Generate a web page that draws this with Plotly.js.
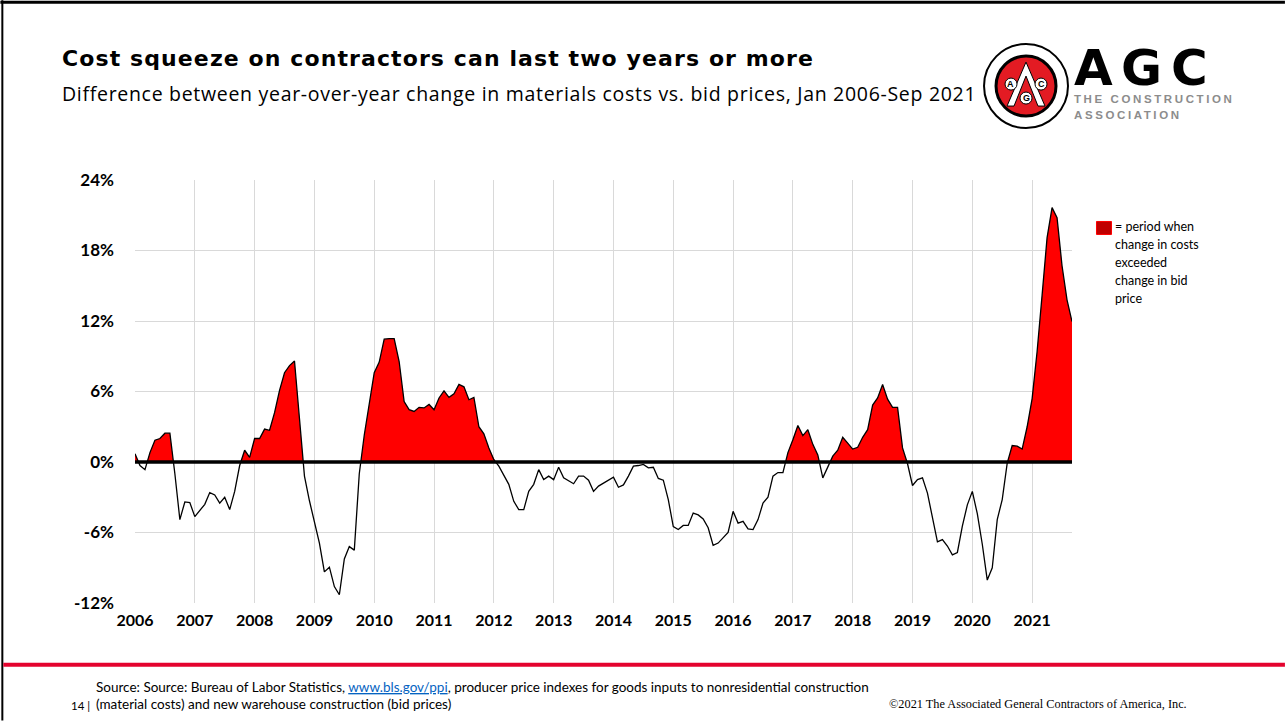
<!DOCTYPE html>
<html>
<head>
<meta charset="utf-8">
<script src="https://cdn.plot.ly/plotly-3.0.1.min.js"></script>
<style>
  html, body { margin: 0; padding: 0; background: #ffffff; }
  #chart { width: 1285px; height: 721px; }
</style>
</head>
<body>
<div id="chart"></div>
<script>
// ---- Data: monthly difference (pp) between YoY change in materials costs and bid prices ----
const years = ['2006','2007','2008','2009','2010','2011','2012','2013','2014','2015','2016','2017','2018','2019','2020','2021'];
const d2006 = [0.7, -0.3, -0.65, 0.8, 1.85, 2.0, 2.45, 2.45, -1.0, -4.9, -3.4, -3.45];
const d2007 = [-4.65, -4.1, -3.6, -2.6, -2.8, -3.5, -3.0, -4.05, -2.5, -0.3, 1.0, 0.4];
const d2008 = [2.0, 2.0, 2.8, 2.7, 4.2, 6.1, 7.6, 8.2, 8.6, 3.7, -1.2, -3.3];
const d2009 = [-5.0, -6.9, -9.35, -8.95, -10.6, -11.3, -8.25, -7.2, -7.5, -1.0, 2.3, 5.1];
const d2010 = [7.6, 8.5, 10.45, 10.5, 10.5, 8.55, 5.15, 4.45, 4.3, 4.65, 4.6, 4.9];
const d2011 = [4.45, 5.45, 6.05, 5.5, 5.8, 6.6, 6.4, 5.3, 5.5, 3.0, 2.4, 1.2];
const d2012 = [0.2, -0.35, -1.1, -1.9, -3.35, -4.05, -4.05, -2.5, -1.9, -0.65, -1.5, -1.2];
const d2013 = [-1.5, -0.45, -1.35, -1.6, -1.85, -1.2, -1.2, -1.55, -2.5, -2.05, -1.8, -1.5];
const d2014 = [-1.3, -2.15, -1.95, -1.2, -0.35, -0.3, -0.2, -0.5, -0.45, -1.4, -1.55, -3.2];
const d2015 = [-5.5, -5.75, -5.4, -5.4, -4.35, -4.5, -4.85, -5.6, -7.1, -6.9, -6.45, -6.0];
const d2016 = [-4.2, -5.2, -5.05, -5.7, -5.75, -4.9, -3.5, -3.0, -1.2, -0.9, -0.9, 0.8];
const d2017 = [1.9, 3.1, 2.25, 2.75, 1.5, 0.6, -1.35, -0.35, 0.5, 1.0, 2.1, 1.6];
const d2018 = [1.1, 1.25, 2.1, 2.75, 4.85, 5.45, 6.6, 5.35, 4.65, 4.65, 1.2, -0.15];
const d2019 = [-2.0, -1.5, -1.35, -2.65, -4.6, -6.8, -6.6, -7.15, -7.9, -7.7, -5.45, -3.65];
const d2020 = [-2.5, -4.4, -7.0, -10.05, -9.0, -4.9, -3.2, -0.1, 1.4, 1.35, 1.1, 3.0];
const d2021 = [5.4, 9.4, 14.2, 19.1, 21.65, 20.8, 16.7, 13.8, 11.95];

const yTickVals = [-12, -6, 0, 6, 12, 18, 24];
const yTickText = ['-12%', '-6%', '0%', '6%', '12%', '18%', '24%'];

const legendLines = ['= period when', 'change in costs', 'exceeded', 'change in bid', 'price'];

// ---- Build series ----
const diff = [].concat(d2006, d2007, d2008, d2009, d2010, d2011, d2012, d2013,
                       d2014, d2015, d2016, d2017, d2018, d2019, d2020, d2021);
const idx = diff.map((_, i) => i);
const yearTickVals = years.map((_, k) => k * 12);

// positive-part polygon with exact zero crossings
const fx = [], fy = [];
for (let i = 0; i < diff.length; i++) {
  if (i > 0 && ((diff[i-1] > 0) !== (diff[i] > 0))) {
    const t = diff[i-1] / (diff[i-1] - diff[i]);
    fx.push(i - 1 + t); fy.push(0);
  }
  fx.push(i); fy.push(Math.max(diff[i], 0));
}

// ---- pixel helpers for page decorations ----
const W = 1285, H = 721, L = 134.7, R = 1072, T = 180, B = 603.3;
const px = x => (x - L) / (R - L);
const py = y => (B - y) / (B - T);

const traces = [
  { x: fx, y: fy, type: 'scatter', mode: 'lines', line: { width: 0, color: '#ff0000' },
    fill: 'tozeroy', fillcolor: '#ff0000', hoverinfo: 'skip', showlegend: false },
  { x: idx, y: diff, type: 'scatter', mode: 'lines', line: { width: 1.3, color: '#000000' },
    showlegend: false }
];

const shapes = [
  // zero line
  { type: 'line', xref: 'x', yref: 'y', x0: 0, x1: diff.length - 1, y0: 0, y1: 0,
    line: { color: '#000000', width: 3.5 }, layer: 'above' },
  // page borders
  { type: 'line', xref: 'paper', yref: 'paper', x0: px(0), x1: px(W), y0: py(2), y1: py(2),
    line: { color: '#000000', width: 3 } },
  { type: 'line', xref: 'paper', yref: 'paper', x0: px(2), x1: px(2), y0: py(0), y1: py(H),
    line: { color: '#000000', width: 2 } },
  // red footer rule
  { type: 'line', xref: 'paper', yref: 'paper', x0: px(3), x1: px(W), y0: py(665), y1: py(665),
    line: { color: '#e4032e', width: 4 } },
  // legend swatch
  { type: 'rect', xref: 'paper', yref: 'paper', x0: px(1096.5), x1: px(1111.5), y0: py(221.5), y1: py(234.5),
    fillcolor: '#c00000', line: { color: '#ff0000', width: 1 } },
  // logo: outer seal
  { type: 'circle', xref: 'paper', yref: 'paper', x0: px(984), x1: px(1068), y0: py(44), y1: py(128),
    fillcolor: '#ffffff', line: { color: '#000000', width: 2 } },
  { type: 'circle', xref: 'paper', yref: 'paper', x0: px(996), x1: px(1056), y0: py(56), y1: py(116),
    fillcolor: '#e31b23', line: { color: '#000000', width: 3 } },
  // white "A" frame in seal
  { type: 'path', xref: 'paper', yref: 'paper',
    path: 'M ' + px(1026) + ' ' + py(62) + ' L ' + px(1007) + ' ' + py(106) + ' L ' + px(1014) + ' ' + py(106) +
          ' L ' + px(1026) + ' ' + py(76) + ' L ' + px(1038) + ' ' + py(106) + ' L ' + px(1045) + ' ' + py(106) + ' Z',
    fillcolor: '#ffffff', line: { color: '#000000', width: 1 } },
  { type: 'circle', xref: 'paper', yref: 'paper', x0: px(1005), x1: px(1017), y0: py(78), y1: py(90),
    fillcolor: '#ffffff', line: { color: '#000000', width: 1 } },
  { type: 'circle', xref: 'paper', yref: 'paper', x0: px(1035), x1: px(1047), y0: py(78), y1: py(90),
    fillcolor: '#ffffff', line: { color: '#000000', width: 1 } },
  { type: 'circle', xref: 'paper', yref: 'paper', x0: px(1020), x1: px(1032), y0: py(92), y1: py(104),
    fillcolor: '#ffffff', line: { color: '#000000', width: 1 } }
];

const ann = (x, y, text, font, extra) => Object.assign({
  xref: 'paper', yref: 'paper', x: px(x), y: py(y), text: text, showarrow: false,
  xanchor: 'left', yanchor: 'middle', align: 'left', font: font
}, extra || {});

const annotations = [
  ann(60, 58, '<span style="letter-spacing:1.1px">Cost squeeze on contractors can last two years or more</span>',
      { family: 'DejaVu Sans', size: 22, color: '#000000', weight: 'bold' }),
  ann(60, 93, '<span style="letter-spacing:0.7px">Difference between year-over-year change in materials costs vs. bid prices, Jan 2006-Sep 2021</span>',
      { family: 'Open Sans', size: 19.5, color: '#000000' }),
  ann(1094, 68, 'A', { family: 'DejaVu Sans', size: 50, color: '#000000', weight: 'bold' }, { xanchor: 'center' }),
  ann(1142, 68, 'G', { family: 'DejaVu Sans', size: 50, color: '#000000', weight: 'bold' }, { xanchor: 'center' }),
  ann(1190, 68, 'C', { family: 'DejaVu Sans', size: 50, color: '#000000', weight: 'bold' }, { xanchor: 'center' }),
  ann(1072, 99, '<span style="letter-spacing:2.6px">THE CONSTRUCTION</span>',
      { family: 'Liberation Sans', size: 11.5, color: '#8c8c8c', weight: 'bold' }),
  ann(1072, 115, '<span style="letter-spacing:2.6px">ASSOCIATION</span>',
      { family: 'Liberation Sans', size: 11.5, color: '#8c8c8c', weight: 'bold' }),
  ann(1010, 84, 'A', { family: 'Liberation Sans', size: 9, color: '#000000', weight: 'bold' }, { xanchor: 'center' }),
  ann(1041, 84, 'C', { family: 'Liberation Sans', size: 9, color: '#000000', weight: 'bold' }, { xanchor: 'center' }),
  ann(1026, 98, 'G', { family: 'Liberation Sans', size: 9, color: '#000000', weight: 'bold' }, { xanchor: 'center' }),
  ann(94, 687, 'Source: Source: Bureau of Labor Statistics, <span style="color:#0563c1;text-decoration:underline">www.bls.gov/ppi</span>, producer price indexes for goods inputs to nonresidential construction',
      { family: 'Lato', size: 13.5, color: '#000000' }),
  ann(94, 704, '(material costs) and new warehouse construction (bid prices)',
      { family: 'Lato', size: 13.5, color: '#000000' }),
  ann(92, 706, '14 |', { family: 'Lato', size: 11.5, color: '#000000' }, { xanchor: 'right' }),
  ann(1189, 704, '©2021 The Associated General Contractors of America, Inc.',
      { family: 'Liberation Serif', size: 12.3, color: '#000000' }, { xanchor: 'right' })
];
legendLines.forEach((line, k) => {
  annotations.push(ann(1113, 227 + k * 17.8, line, { family: 'Lato', size: 12.5, color: '#000000' }));
});

const layout = {
  width: W, height: H,
  margin: { l: L, r: W - R, t: T, b: H - B, pad: 0 },
  paper_bgcolor: '#ffffff', plot_bgcolor: '#ffffff',
  showlegend: false,
  hovermode: false,
  xaxis: {
    range: [0, diff.length - 1], tickvals: yearTickVals, ticktext: years,
    showgrid: true, gridcolor: '#d9d9d9', gridwidth: 1, zeroline: false, showline: false,
    ticks: '', ticklabelstandoff: 6,
    tickfont: { family: 'Lato', size: 16, color: '#000000', weight: 'bold' }
  },
  yaxis: {
    range: [-12, 24], tickvals: yTickVals, ticktext: yTickText,
    showgrid: true, gridcolor: '#d9d9d9', gridwidth: 1, zeroline: false, showline: false,
    ticks: '', ticklabelstandoff: 20,
    tickfont: { family: 'Lato', size: 17, color: '#000000', weight: 'bold' }
  },
  shapes: shapes,
  annotations: annotations
};

Plotly.newPlot('chart', traces, layout, { staticPlot: true, displayModeBar: false });
</script>
</body>
</html>
